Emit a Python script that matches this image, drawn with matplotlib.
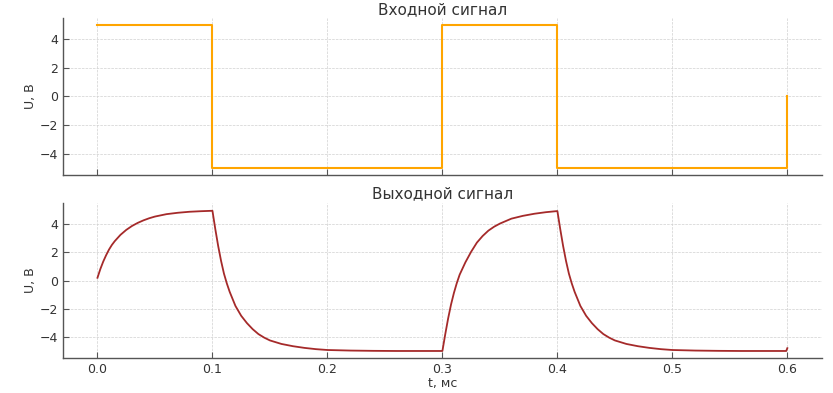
import matplotlib
matplotlib.use("Agg")
import matplotlib.pyplot as plt

# входной сигнал (прямоугольные импульсы)
t_in = [0.0, 0.1, 0.1, 0.3, 0.3, 0.4, 0.4, 0.6, 0.6]
u_in = [5, 5, -5, -5, 5, 5, -5, -5, 0]

# выходной сигнал
t_out = [0.0, 0.0025, 0.005, 0.0075, 0.01, 0.0125, 0.015, 0.02, 0.025, 0.03,
         0.035, 0.04, 0.045, 0.05, 0.06, 0.07, 0.08, 0.09,
         0.1, 0.1025, 0.105, 0.1075, 0.11, 0.1125, 0.115, 0.12, 0.125, 0.13,
         0.135, 0.14, 0.145, 0.15, 0.16, 0.17, 0.18, 0.19, 0.2, 0.22, 0.24,
         0.26, 0.28,
         0.3, 0.3025, 0.305, 0.3075, 0.31, 0.3125, 0.315, 0.32, 0.325, 0.33,
         0.335, 0.34, 0.345, 0.35, 0.36, 0.37, 0.38, 0.39,
         0.4, 0.4025, 0.405, 0.4075, 0.41, 0.4125, 0.415, 0.42, 0.425, 0.43,
         0.435, 0.44, 0.445, 0.45, 0.46, 0.47, 0.48, 0.49, 0.5, 0.52, 0.54,
         0.56, 0.58, 0.599, 0.6]
u_out = [0.2, 0.82, 1.35, 1.8, 2.2, 2.53, 2.8, 3.25, 3.6, 3.88,
         4.1, 4.28, 4.43, 4.55, 4.72, 4.82, 4.89, 4.93,
         4.96, 3.65, 2.45, 1.4, 0.5, -0.2, -0.8, -1.8, -2.5, -3.02,
         -3.45, -3.8, -4.05, -4.25, -4.5, -4.66, -4.78, -4.87, -4.93, -4.97, -4.99,
         -5.0, -5.0,
         -5.0, -3.8, -2.68, -1.7, -0.88, -0.18, 0.42, 1.3, 2.05, 2.7,
         3.17, 3.55, 3.83, 4.05, 4.4, 4.6, 4.75, 4.86,
         4.94, 3.65, 2.45, 1.4, 0.5, -0.2, -0.8, -1.8, -2.5, -3.02,
         -3.45, -3.8, -4.05, -4.25, -4.5, -4.66, -4.78, -4.87, -4.93, -4.97, -4.99,
         -5.0, -5.0, -5.0, -4.8]

fig = plt.figure(figsize=(8.33, 3.93), dpi=100)
ax1 = fig.add_axes([0.0756, 0.555, 0.911, 0.399])
ax2 = fig.add_axes([0.0756, 0.089, 0.911, 0.394], sharex=ax1)

ax1.plot(t_in, u_in, color="orange", lw=1.5)
ax2.plot(t_out, u_out, color="#a52a2a", lw=1.3)

ax1.set_title("Входной сигнал", fontsize=11, color="#333333", pad=2.5)
ax2.set_title("Выходной сигнал", fontsize=11, color="#333333", pad=3.5)
ax2.set_xlabel("t, мс", fontsize=9, color="#333333", labelpad=1)

for ax in (ax1, ax2):
    ax.set_ylabel("U, В", fontsize=9, color="#333333", labelpad=2)
    ax.set_ylim(-5.5, 5.5)
    ax.set_yticks([-4, -2, 0, 2, 4])
    ax.grid(True, ls="--", lw=0.5, color="#d0d0d0")
    for s in ("top", "right"):
        ax.spines[s].set_visible(False)
    for s in ("left", "bottom"):
        ax.spines[s].set_color("#555555")
        ax.spines[s].set_linewidth(1.0)
    ax.tick_params(direction="in", colors="#555555", labelcolor="#333333",
                   labelsize=9, length=4)

ax1.set_xlim(-0.03, 0.63)
ax1.set_xticks([0.0, 0.1, 0.2, 0.3, 0.4, 0.5, 0.6])
ax1.tick_params(labelbottom=False)

fig.savefig("out.png", dpi=100)
